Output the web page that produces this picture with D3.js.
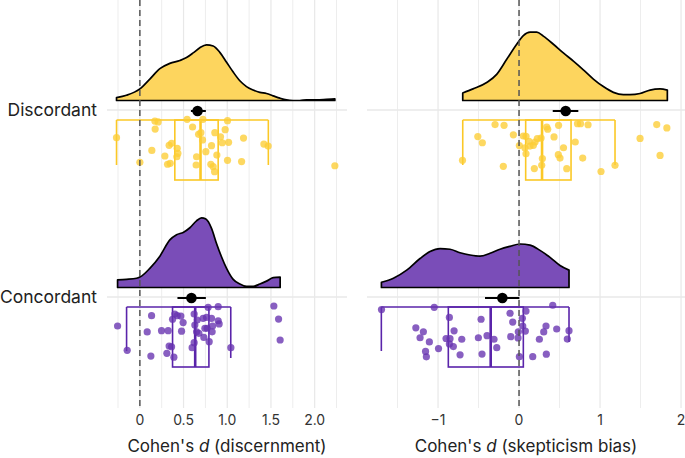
<!DOCTYPE html>
<html>
<head>
<meta charset="utf-8">
<script src="https://cdn.jsdelivr.net/npm/d3@7"></script>
<style>
  html, body { margin: 0; padding: 0; background: #fff; }
  svg { display: block; font-family: "Inter", "Roboto", sans-serif; }
</style>
</head>
<body>
<svg id="chart" width="685" height="458"></svg>
<script>
// ---------------- DATA ----------------
const categories = ["Discordant", "Concordant"];

// Discernment panel: jittered points [value, jitter]
const discernDiscordantPts = [
  [-0.267,0.148],[0.000,0.280],[0.172,0.059],[0.209,0.064],[0.175,0.102],[0.137,0.216],
  [0.286,0.246],[0.317,0.290],[0.347,0.285],[0.335,0.189],[0.363,0.178],[0.427,0.205],
  [0.435,0.232],[0.423,0.250],[0.541,0.050],[0.603,0.091],[0.649,0.250],[0.644,0.294],
  [0.672,0.130],[0.698,0.121],[0.721,0.050],[0.717,0.160],[0.755,0.223],[0.820,0.191],
  [0.812,0.290],[0.839,0.303],[0.855,0.330],[0.858,0.121],[0.881,0.241],[0.923,0.143],
  [0.942,0.175],[0.976,0.105],[1.003,0.057],[1.015,0.173],[1.003,0.269],[1.164,0.276],
  [1.186,0.150],[1.419,0.182],[1.468,0.193],[2.231,0.298]
];
const discernConcordantPts = [
  [-0.255,0.155],[-0.145,0.285],[0.134,0.100],[0.084,0.187],[0.126,0.316],[0.248,0.180],
  [0.324,0.180],[0.309,0.301],[0.335,0.262],[0.363,0.266],[0.389,0.322],[0.374,0.119],
  [0.400,0.091],[0.427,0.100],[0.469,0.102],[0.495,0.137],[0.477,0.183],[0.598,0.271],
  [0.621,0.244],[0.621,0.091],[0.629,0.150],[0.656,0.123],[0.649,0.186],[0.675,0.194],
  [0.724,0.114],[0.732,0.216],[0.744,0.167],[0.763,0.109],[0.781,0.055],[0.770,0.167],
  [0.793,0.239],[0.820,0.114],[0.827,0.186],[0.832,0.155],[0.896,0.052],[0.896,0.127],
  [0.907,0.144],[1.041,0.271],[1.533,0.048],[1.587,0.118],[1.605,0.230]
];
// Skepticism bias panel
const skepDiscordantPts = [
  [-0.698,0.269],[-0.509,0.142],[-0.453,0.175],[-0.296,0.078],[-0.185,0.082],[-0.194,0.301],
  [-0.070,0.133],[0.004,0.190],[0.053,0.139],[0.086,0.141],[0.074,0.203],[0.086,0.234],
  [0.123,0.167],[0.136,0.193],[0.177,0.189],[0.198,0.171],[0.226,0.153],[0.189,0.313],
  [0.272,0.150],[0.288,0.260],[0.280,0.296],[0.342,0.091],[0.354,0.103],[0.432,0.144],
  [0.488,0.082],[0.549,0.202],[0.485,0.239],[0.506,0.257],[0.589,0.314],[0.694,0.171],
  [0.722,0.073],[0.759,0.073],[0.852,0.079],[0.786,0.257],[1.012,0.329],[1.185,0.296],
  [1.494,0.152],[1.700,0.078],[1.825,0.096],[1.741,0.243]
];
const skepConcordantPts = [
  [-1.698,0.067],[-1.047,0.055],[-1.274,0.165],[-1.181,0.186],[-1.222,0.218],[-1.107,0.240],
  [-1.154,0.291],[-1.144,0.320],[-0.994,0.276],[-0.860,0.109],[-0.802,0.181],[-0.901,0.222],
  [-0.852,0.223],[-0.860,0.251],[-0.811,0.265],[-0.728,0.309],[-0.707,0.226],[-0.502,0.218],
  [-0.469,0.119],[-0.395,0.207],[-0.457,0.305],[-0.309,0.226],[-0.275,0.271],[-0.111,0.087],
  [-0.078,0.134],[-0.102,0.212],[-0.009,0.186],[-0.012,0.219],[0.041,0.114],[0.046,0.155],
  [0.086,0.075],[0.078,0.182],[0.004,0.319],[0.169,0.319],[0.251,0.226],[0.305,0.187],
  [0.333,0.155],[0.416,0.044],[0.465,0.171],[0.337,0.306],[0.617,0.180],[0.596,0.225]
];

// Density curves: [value, density]
const discernDiscordantDens = [
  [-0.267,0.05],[-0.153,0.09],[0.0,0.20],[0.114,0.37],[0.229,0.55],[0.343,0.64],[0.458,0.69],
  [0.534,0.74],[0.610,0.82],[0.686,0.91],[0.763,0.96],[0.839,0.94],[0.915,0.83],[0.992,0.66],
  [1.068,0.49],[1.144,0.34],[1.220,0.24],[1.297,0.18],[1.373,0.14],[1.449,0.12],[1.525,0.08],
  [1.602,0.04],[1.678,0.01],[1.754,0.00],[1.830,0.00],[1.907,0.01],[2.021,0.01],[2.135,0.02],
  [2.231,0.03]
];
const discernConcordantDens = [
  [-0.255,0.13],[-0.153,0.14],[-0.038,0.16],[0.0,0.18],[0.114,0.33],[0.229,0.54],[0.343,0.82],
  [0.420,0.91],[0.496,0.95],[0.572,1.03],[0.648,1.15],[0.706,1.20],[0.755,1.18],[0.820,1.02],
  [0.877,0.76],[0.934,0.53],[0.992,0.33],[1.068,0.14],[1.144,0.06],[1.220,0.02],[1.297,0.02],
  [1.373,0.06],[1.449,0.11],[1.525,0.17],[1.605,0.18]
];
const skepDiscordantDens = [
  [-0.695,0.13],[-0.568,0.20],[-0.399,0.31],[-0.276,0.45],[-0.152,0.71],[-0.029,0.97],
  [0.053,1.12],[0.136,1.18],[0.218,1.18],[0.300,1.11],[0.424,0.97],[0.547,0.82],[0.671,0.68],
  [0.794,0.53],[0.918,0.37],[1.041,0.24],[1.165,0.14],[1.288,0.10],[1.370,0.10],[1.494,0.12],
  [1.617,0.18],[1.741,0.20],[1.831,0.18]
];
const skepConcordantDens = [
  [-1.699,0.09],[-1.551,0.16],[-1.387,0.30],[-1.222,0.50],[-1.099,0.62],[-0.975,0.67],
  [-0.852,0.66],[-0.728,0.60],[-0.605,0.56],[-0.481,0.54],[-0.358,0.59],[-0.235,0.66],
  [-0.111,0.71],[0.012,0.75],[0.136,0.73],[0.259,0.64],[0.383,0.52],[0.506,0.38],[0.617,0.30]
];

// Box summaries: [whiskerLow, q1, median, q3, whiskerHigh]
const discernDiscordantBox = [-0.267, 0.40, 0.694, 0.896, 1.47];
const discernConcordantBox = [-0.152, 0.374, 0.633, 0.79, 1.04];
const skepDiscordantBox = [-0.695, 0.082, 0.284, 0.642, 1.185];
const skepConcordantBox = [-1.70, -0.873, -0.35, 0.053, 0.617];

// Mean with interval: [low, mean, high]
const discernDiscordantMean = [0.584, 0.66, 0.755];
const discernConcordantMean = [0.43, 0.59, 0.755];
const skepDiscordantMean = [0.416, 0.576, 0.732];
const skepConcordantMean = [-0.42, -0.206, 0.004];

// Ticks
const discernTicks = [0, 0.5, 1.0, 1.5, 2.0];
const discernTickLabels = ["0", "0.5", "1.0", "1.5", "2.0"];
const discernMinor = [-0.25, 0.25, 0.75, 1.25, 1.75, 2.25];
const skepTicks = [-1, 0, 1, 2];
const skepTickLabels = ["\u22121", "0", "1", "2"];
const skepMinor = [-1.5, -0.5, 0.5, 1.5];

// ---------------- DRAW ----------------
const svg = d3.select("#chart");
const colors = {
  Discordant: { fill: "#fdd55e", point: "#fdcd35", box: "#fbc826" },
  Concordant: { fill: "#7a4db8", point: "#6632b0", box: "#5a24aa" }
};
const plotTop = 0, plotBottom = 408;

const y = d3.scalePoint().domain(categories).range([110, 297]);
const step = y.step();

const panels = [
  {
    x: d3.scaleLinear().domain([-0.376, 2.37]).range([107, 347]),
    ticks: discernTicks, labels: discernTickLabels, minor: discernMinor,
    title: ["Cohen's ", "d", " (discernment)"],
    groups: {
      Discordant: { pts: discernDiscordantPts, dens: discernDiscordantDens, box: discernDiscordantBox, mean: discernDiscordantMean, staple: [45, 45] },
      Concordant: { pts: discernConcordantPts, dens: discernConcordantDens, box: discernConcordantBox, mean: discernConcordantMean, staple: [44, 51] }
    }
  },
  {
    x: d3.scaleLinear().domain([-1.877, 2.049]).range([367, 685]),
    ticks: skepTicks, labels: skepTickLabels, minor: skepMinor,
    title: ["Cohen's ", "d", " (skepticism bias)"],
    groups: {
      Discordant: { pts: skepDiscordantPts, dens: skepDiscordantDens, box: skepDiscordantBox, mean: skepDiscordantMean, staple: [45, 45] },
      Concordant: { pts: skepConcordantPts, dens: skepConcordantDens, box: skepConcordantBox, mean: skepConcordantMean, staple: [44, 35] }
    }
  }
];

const densH = d3.scaleLinear().domain([0, 1]).range([0, 58]);

panels.forEach(p => {
  const x = p.x;
  const [x0, x1] = x.range();
  const g = svg.append("g");

  // gridlines
  g.selectAll(".minor").data(p.minor).join("line")
    .attr("x1", d => x(d)).attr("x2", d => x(d))
    .attr("y1", plotTop).attr("y2", plotBottom)
    .attr("stroke", "#ededed").attr("stroke-width", 1);
  g.selectAll(".major").data(p.ticks).join("line")
    .attr("x1", d => x(d)).attr("x2", d => x(d))
    .attr("y1", plotTop).attr("y2", plotBottom)
    .attr("stroke", "#e8e8e8").attr("stroke-width", 1.2);
  g.selectAll(".hgrid").data(categories).join("line")
    .attr("x1", x0).attr("x2", x1)
    .attr("y1", d => y(d)).attr("y2", d => y(d))
    .attr("stroke", "#e8e8e8").attr("stroke-width", 1.5);

  categories.forEach(cat => {
    const grp = p.groups[cat];
    const c = colors[cat];
    const cy = y(cat);
    const base = cy - 9.5;

    // density
    const area = d3.area()
      .x(d => x(d[0]))
      .y0(base)
      .y1(d => base - densH(d[1]))
      .curve(d3.curveMonotoneX);
    g.append("path").datum(grp.dens)
      .attr("d", area)
      .attr("fill", c.fill)
      .attr("stroke", "#000").attr("stroke-width", 1.7)
      .attr("stroke-linejoin", "round");

    // box (half style, hanging below)
    const bTop = cy + 10, bBot = cy + 70;
    const [wl, q1, med, q3, wh] = grp.box;
    const bg = g.append("g").attr("stroke", c.box).attr("fill", "none");
    bg.append("line").attr("x1", x(wl)).attr("x2", x(wh)).attr("y1", bTop).attr("y2", bTop).attr("stroke-width", 1.6);
    bg.append("line").attr("x1", x(wl)).attr("x2", x(wl)).attr("y1", bTop).attr("y2", bTop + grp.staple[0]).attr("stroke-width", 1.6);
    bg.append("line").attr("x1", x(wh)).attr("x2", x(wh)).attr("y1", bTop).attr("y2", bTop + grp.staple[1]).attr("stroke-width", 1.6);
    bg.append("rect").attr("x", x(q1)).attr("y", bTop).attr("width", x(q3) - x(q1)).attr("height", bBot - bTop).attr("stroke-width", 1.6);
    bg.append("line").attr("x1", x(med)).attr("x2", x(med)).attr("y1", bTop).attr("y2", bBot).attr("stroke-width", 2.6);

    // points
    g.append("g").selectAll("circle").data(grp.pts).join("circle")
      .attr("cx", d => x(d[0]))
      .attr("cy", d => cy + d[1] * step)
      .attr("r", 3.6)
      .attr("fill", c.point)
      .attr("fill-opacity", 0.78);

    // mean + interval
    const [lo, m, hi] = grp.mean;
    g.append("line").attr("x1", x(lo)).attr("x2", x(hi)).attr("y1", cy + 1).attr("y2", cy + 1)
      .attr("stroke", "#000").attr("stroke-width", 2);
    g.append("circle").attr("cx", x(m)).attr("cy", cy + 1).attr("r", 5.3).attr("fill", "#000");
  });

  // zero reference line
  g.append("line").attr("x1", x(0)).attr("x2", x(0))
    .attr("y1", plotTop).attr("y2", plotBottom)
    .attr("stroke", "#555").attr("stroke-width", 1.5)
    .attr("stroke-dasharray", "6,4");

  // tick labels
  g.selectAll(".tick").data(p.ticks).join("text")
    .attr("x", d => x(d)).attr("y", 425)
    .attr("text-anchor", "middle")
    .attr("font-size", 14).attr("fill", "#333")
    .text((d, i) => p.labels[i]);

  // title, centred on the panel
  const t = g.append("text")
    .attr("x", (x0 + x1) / 2)
    .attr("y", 452).attr("text-anchor", "middle")
    .attr("font-size", 17).attr("fill", "#222");
  t.append("tspan").text(p.title[0]);
  t.append("tspan").attr("font-style", "italic").text(p.title[1]);
  t.append("tspan").text(p.title[2]);
});

// category labels
svg.selectAll(".cat").data(categories).join("text")
  .attr("x", 97).attr("y", d => y(d))
  .attr("dy", "0.35em")
  .attr("text-anchor", "end")
  .attr("font-size", 17.5).attr("fill", "#222")
  .text(d => d);
</script>
</body>
</html>
